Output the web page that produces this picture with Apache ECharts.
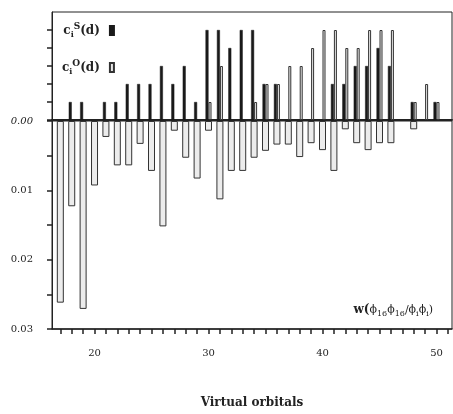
<!DOCTYPE html>
<html>
<head>
<meta charset="utf-8">
<script src="https://cdn.jsdelivr.net/npm/echarts@6/dist/echarts.min.js"></script>
<style>
    html, body {margin: 0; padding: 0; background: #fff;}
    #chart {width: 453px; height: 414px;}
</style>
</head>
<body>
<div id="chart"></div>
<script>
// virtual orbital index
var orbitals = [17, 18, 19, 20, 21, 22, 23, 24, 25, 26, 27, 28, 29, 30, 31, 32, 33,
    34, 35, 36, 37, 38, 39, 40, 41, 42, 43, 44, 45, 46, 47, 48, 49, 50];
// c_i^S(d), upper part (in tick units)
var sValues = [null, 1, 1, null, 1, 1, 2, 2, 2, 3, 2, 3, 1, 5, 5, 4, 5,
    5, 2, 2, null, null, null, null, 2, 2, 3, 3, 4, 3, null, 1, null, 1];
// c_i^O(d), upper part (in tick units)
var oValues = [null, null, null, null, null, null, null, null, null, null, null, null, null, 1, 3, null, null,
    1, 2, 2, 3, 3, 4, 5, 5, 4, 4, 5, 5, 5, null, 1, 2, 1];
// w(phi16 phi16 / phi_i phi_i), lower part
var wValues = [0.0262, 0.0123, 0.0271, 0.0093, 0.0023, 0.0064, 0.0064, 0.0033, 0.0072, 0.0152, 0.0014, 0.0053, 0.0083, 0.0014, 0.0113, 0.0072, 0.0072,
    0.0053, 0.0043, 0.0034, 0.0034, 0.0052, 0.0032, 0.0042, 0.0072, 0.0012, 0.0032, 0.0042, 0.0032, 0.0032, null, 0.0012, null, null];
var xTickValues = [17, 18, 19, 20, 21, 22, 23, 24, 25, 26, 27, 28, 29, 30, 31, 32, 33,
    34, 35, 36, 37, 38, 39, 40, 41, 42, 43, 44, 45, 46, 47, 48, 49, 50, 51];
var xLabelValues = [20, 30, 40, 50];
var upperTickValues = [0, 1, 2, 3, 4, 5];
var yLabelValues = ['0.00', '0.01', '0.02', '0.03'];

function pairs(vals) {
    var out = [];
    for (var i = 0; i < orbitals.length; i++) {
        if (vals[i] !== null) out.push([orbitals[i], vals[i]]);
    }
    return out;
}

var serif = 'DejaVu Serif';
var xMin = 16.27, xMax = 51.36;

var chart = echarts.init(document.getElementById('chart'));
var option = {
    animation: false,
    grid: [
        {left: 52, right: 1, top: 12, height: 108, show: true, borderColor: '#222', borderWidth: 1},
        {left: 52, right: 1, top: 121, height: 215, show: true, borderColor: '#222', borderWidth: 1}
    ],
    legend: {
        orient: 'vertical',
        left: 57,
        top: 17,
        align: 'right',
        icon: 'rect',
        itemWidth: 4,
        itemHeight: 9,
        itemGap: 20,
        selectedMode: false,
        data: ['ciS(d)', 'ciO(d)'],
        formatter: function (name) {
            var sup = name === 'ciS(d)' ? 'S' : 'O';
            return '{b|c}{sub|i}{sup|' + sup + '}{e|(d)}';
        },
        textStyle: {
            rich: {
                b: {fontFamily: serif, fontWeight: 'bold', fontSize: 12, lineHeight: 17, color: '#222', verticalAlign: 'middle'},
                e: {fontFamily: serif, fontWeight: 'bold', fontSize: 12, lineHeight: 17, color: '#222', verticalAlign: 'middle', padding: [0, 5, 0, 0]},
                sub: {fontFamily: serif, fontWeight: 'bold', fontSize: 8, lineHeight: 8, color: '#222', verticalAlign: 'bottom'},
                sup: {fontFamily: serif, fontWeight: 'bold', fontSize: 9, lineHeight: 9, color: '#222', verticalAlign: 'top'}
            }
        }
    },
    graphic: [{
        type: 'text',
        right: 20,
        top: 304,
        style: {
            text: '{w|w(}{t|ϕ}{s|16}{t|ϕ}{s|16}{t|/ϕ}{s|i}{t|ϕ}{s|i}{t|)}',
            rich: {
                w: {fontFamily: serif, fontWeight: 'bold', fontSize: 12, lineHeight: 16, fill: '#222'},
                t: {fontFamily: serif, fontSize: 11, lineHeight: 16, fill: '#222'},
                s: {fontFamily: serif, fontSize: 8, lineHeight: 8, fill: '#222', verticalAlign: 'bottom'}
            }
        }
    }],
    xAxis: [
        {
            gridIndex: 0, type: 'value', min: xMin, max: xMax,
            axisLine: {show: true, onZero: false, lineStyle: {color: '#222', width: 2}},
            axisTick: {show: false},
            axisLabel: {show: false},
            splitLine: {show: false}
        },
        {
            gridIndex: 1, type: 'value', min: xMin, max: xMax, position: 'bottom',
            name: 'Virtual orbitals',
            nameLocation: 'middle',
            nameGap: 68,
            nameTextStyle: {fontFamily: serif, fontWeight: 'bold', fontSize: 12, color: '#222'},
            axisLine: {show: true, onZero: false, lineStyle: {color: '#222', width: 1.5}},
            axisTick: {show: true, length: 5, customValues: xTickValues, lineStyle: {color: '#222', width: 1.5}},
            axisLabel: {
                customValues: xLabelValues, margin: 19,
                fontFamily: serif, fontSize: 10, color: '#222'
            },
            splitLine: {show: false}
        }
    ],
    yAxis: [
        {
            gridIndex: 0, type: 'value', min: 0, max: 6, interval: 1,
            axisLine: {show: true, lineStyle: {color: '#222'}},
            axisTick: {show: true, length: 5, customValues: upperTickValues, lineStyle: {color: '#222', width: 1.5}},
            axisLabel: {show: false},
            splitLine: {show: false}
        },
        {
            gridIndex: 1, type: 'value', min: 0, max: 0.03, interval: 0.005, inverse: true,
            axisLine: {show: true, lineStyle: {color: '#222'}},
            axisTick: {show: true, length: 5, lineStyle: {color: '#222', width: 1.5}},
            axisLabel: {
                margin: 19, showMinLabel: true, showMaxLabel: true,
                fontFamily: serif, fontSize: 10, color: '#222',
                formatter: function (v) {
                    var k = Math.round(v * 1000);
                    if (k % 10 !== 0) return '';
                    var s = yLabelValues[k / 10];
                    return k === 0 ? '{i|' + s + '}' : s;
                },
                rich: {i: {fontFamily: serif, fontStyle: 'italic', fontSize: 10, color: '#222'}}
            },
            splitLine: {show: false}
        }
    ],
    series: [
        {
            name: 'ciS(d)', type: 'bar', xAxisIndex: 0, yAxisIndex: 0,
            barWidth: 3, barGap: '0%',
            itemStyle: {color: '#1a1a1a', borderColor: '#1a1a1a', borderWidth: 0.5},
            data: pairs(sValues)
        },
        {
            name: 'ciO(d)', type: 'bar', xAxisIndex: 0, yAxisIndex: 0,
            barWidth: 3, barGap: '0%',
            itemStyle: {color: '#e6e6e6', borderColor: '#333', borderWidth: 1},
            data: pairs(oValues)
        },
        {
            name: 'w', type: 'bar', xAxisIndex: 1, yAxisIndex: 1,
            barWidth: 7,
            itemStyle: {color: '#ececec', borderColor: '#333', borderWidth: 1},
            data: pairs(wValues)
        }
    ]
};
chart.setOption(option);
</script>
</body>
</html>
